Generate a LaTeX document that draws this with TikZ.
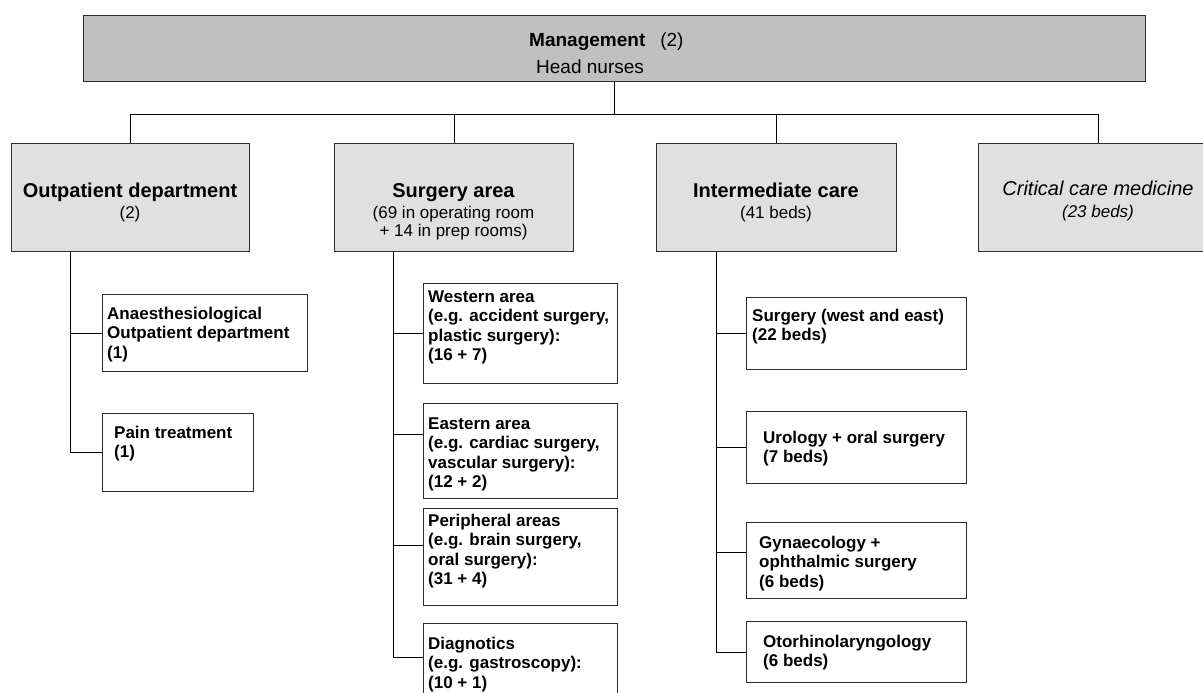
\documentclass[tikz,border=0pt]{standalone}
\usepackage{fontspec}
\setmainfont{Liberation Sans}
\usetikzlibrary{calc}
\definecolor{mgfill}{RGB}{192,192,192}
\definecolor{hdfill}{RGB}{224,224,224}
\definecolor{bord}{RGB}{45,45,45}
\begin{document}
\begin{tikzpicture}[x=1pt,y=-1pt,
  box/.style={draw=bord, line width=1.2pt, inner sep=0pt, anchor=north west},
  mgbox/.style={box, fill=mgfill},
  hdbox/.style={box, fill=hdfill},
  chbox/.style={box, fill=white},
  conn/.style={draw=black, line width=1pt},
  ttl/.style={font=\fontsize{20}{24}\selectfont\bfseries, anchor=base, inner sep=0pt},
  sub/.style={font=\fontsize{17}{20}\selectfont, anchor=base, inner sep=0pt},
  chtxt/.style={font=\fontsize{17}{19.5}\selectfont\bfseries, align=left, anchor=north west, inner sep=0pt},
]
\useasboundingbox (0,0) rectangle (1203,693);
\clip (0,0) rectangle (1203,693);

% boxes
\node[mgbox, minimum width=1062pt, minimum height=66pt] (mgmt) at (83,15) {};
\node[hdbox, minimum width=238pt, minimum height=108pt] (outp) at (11,143) {};
\node[hdbox, minimum width=239pt, minimum height=108pt] (surg) at (334,143) {};
\node[hdbox, minimum width=240pt, minimum height=108pt] (inter) at (656,143) {};
\node[hdbox, minimum width=240pt, minimum height=108pt] (crit) at (978,143) {};

\node[chbox, minimum width=205pt, minimum height=77pt] (anae) at (102,294) {};
\node[chbox, minimum width=151pt, minimum height=78pt] (pain) at (102,413) {};

\node[chbox, minimum width=194pt, minimum height=100pt] (west) at (423,283) {};
\node[chbox, minimum width=194pt, minimum height=95pt] (east) at (423,403) {};
\node[chbox, minimum width=194pt, minimum height=97pt] (peri) at (423,508) {};
\node[chbox, minimum width=194pt, minimum height=97pt] (diag) at (423,623) {};

\node[chbox, minimum width=220pt, minimum height=72pt] (sw) at (746,297) {};
\node[chbox, minimum width=220pt, minimum height=72pt] (uro) at (746,411) {};
\node[chbox, minimum width=220pt, minimum height=76pt] (gyn) at (746,522) {};
\node[chbox, minimum width=220pt, minimum height=61pt] (oto) at (746,621) {};

% texts
\node[anchor=base west, inner sep=0pt, font=\fontsize{19}{23}\selectfont] (mg-t) at (529,47) {\textbf{Management}\hspace{15pt}(2)};
\node[anchor=base west, inner sep=0pt, font=\fontsize{19}{23}\selectfont] (mg-s) at (536,74) {Head nurses};

\node[ttl] (outp-t) at (130,197) {Outpatient department};
\node[sub] (outp-s) at (130,218) {(2)};
\node[ttl] (surg-t) at (453.5,197) {Surgery area};
\node[sub] (surg-s1) at (453.5,218) {(69 in operating room};
\node[sub] (surg-s2) at (453.5,236) {+ 14 in prep rooms)};
\node[ttl] (inter-t) at (776,197) {Intermediate care};
\node[sub] (inter-s) at (776,218) {(41 beds)};
\node[ttl, font=\fontsize{20}{24}\selectfont\itshape] (crit-t) at (1098,195) {Critical care medicine};
\node[sub, font=\fontsize{17}{20}\selectfont\itshape] (crit-s) at (1098,217) {(23 beds)};

\node[chtxt] (anae-t) at (107,305) {\rule{0pt}{14pt}Anaesthesiological\\Outpatient department\\(1)};
\node[chtxt] (pain-t) at (114,424) {\rule{0pt}{14pt}Pain treatment\\(1)};
\node[chtxt] (west-t) at (428,288) {\rule{0pt}{14pt}Western area\\(e.g. accident surgery,\\plastic surgery):\\(16 + 7)};
\node[chtxt] (east-t) at (428,415) {\rule{0pt}{14pt}Eastern area\\(e.g. cardiac surgery,\\vascular surgery):\\(12 + 2)};
\node[chtxt] (peri-t) at (428,512) {\rule{0pt}{14pt}Peripheral areas\\(e.g. brain surgery,\\oral surgery):\\(31 + 4)};
\node[chtxt] (diag-t) at (428,635) {\rule{0pt}{14pt}Diagnotics\\(e.g. gastroscopy):\\(10 + 1)};
\node[chtxt] (sw-t) at (752,307) {\rule{0pt}{14pt}Surgery (west and east)\\(22 beds)};
\node[chtxt] (uro-t) at (763,429) {\rule{0pt}{14pt}Urology + oral surgery\\(7 beds)};
\node[chtxt] (gyn-t) at (759,534) {\rule{0pt}{14pt}Gynaecology +\\ophthalmic surgery\\(6 beds)};
\node[chtxt] (oto-t) at (763,633) {\rule{0pt}{14pt}Otorhinolaryngology\\(6 beds)};

% top connectors
\coordinate (bar) at ($(mgmt.south)+(0,32)$);
\draw[conn] (mgmt.south) -- (bar);
\draw[conn] (outp.north) |- (bar) -| (crit.north);
\draw[conn] (surg.north) -- (surg.north |- bar);
\draw[conn] (inter.north) -- (inter.north |- bar);

% outpatient subtree
\coordinate (otr) at ($(outp.south west)+(59,0)$);
\draw[conn] (otr) |- (pain.west);
\draw[conn] (anae.west) -- (anae.west -| otr);

% surgery subtree
\coordinate (str) at ($(surg.south west)+(59,0)$);
\coordinate (eastc) at ($(east.north west)!0.326!(east.south west)$);
\coordinate (peric) at ($(peri.north west)!0.38!(peri.south west)$);
\coordinate (diagc) at ($(diag.north west)!0.35!(diag.south west)$);
\draw[conn] (str) |- (diagc);
\draw[conn] (west.west) -- (west.west -| str);
\draw[conn] (eastc) -- (eastc -| str);
\draw[conn] (peric) -- (peric -| str);

% intermediate subtree
\coordinate (itr) at ($(inter.south west)+(60,0)$);
\coordinate (gync) at ($(gyn.north west)!0.395!(gyn.south west)$);
\draw[conn] (itr) |- (oto.west);
\draw[conn] (sw.west) -- (sw.west -| itr);
\draw[conn] (uro.west) -- (uro.west -| itr);
\draw[conn] (gync) -- (gync -| itr);
\end{tikzpicture}
\end{document}
